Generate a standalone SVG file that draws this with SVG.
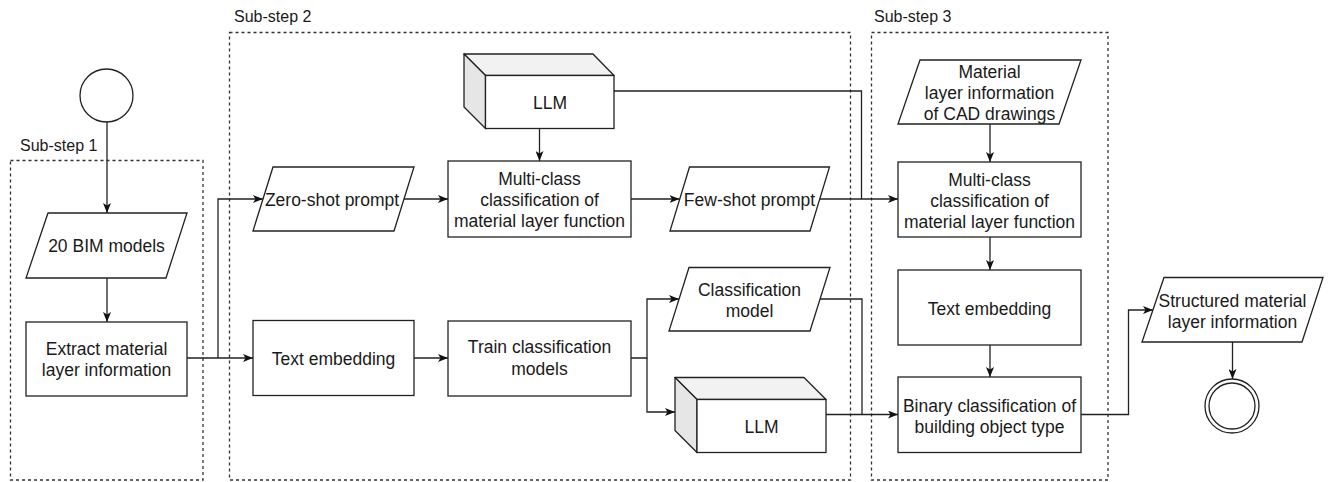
<svg xmlns="http://www.w3.org/2000/svg" width="1334" height="482" viewBox="0 0 1334 482">
<style>
.bg{fill:#ffffff}
.grp{fill:none;stroke:#333333;stroke-width:1.3;stroke-dasharray:3 3}
.lbl{font-family:"Liberation Sans",Arial,sans-serif;font-size:16px;fill:#1a1a1a}
.box{fill:#ffffff;stroke:#222222;stroke-width:1.3}
.top{fill:#f2f2f2;stroke:#222222;stroke-width:1.3;stroke-linejoin:round}
.side{fill:#e6e6e6;stroke:#222222;stroke-width:1.3;stroke-linejoin:round}
.t{font-family:"Liberation Sans",Arial,sans-serif;font-size:17.5px;fill:#1a1a1a;text-anchor:middle}
.c{fill:none;stroke:#222222;stroke-width:1.3}
.a{marker-end:url(#arr)}
</style>
<defs>
<marker id="arr" markerUnits="userSpaceOnUse" markerWidth="10" markerHeight="8" viewBox="0 0 10 8" refX="10" refY="4" orient="auto">
<path d="M0,0 L10,4 L0,8 L2.5,4 z" fill="#111111"/>
</marker>
</defs>
<rect class="bg" x="0" y="0" width="1334" height="482"/>

<g id="substep1">
<text class="lbl" x="20" y="151">Sub-step 1</text>
<rect class="grp" x="10.5" y="160.5" width="192.5" height="319.5"/>
</g>
<g id="substep2">
<text class="lbl" x="234" y="22">Sub-step 2</text>
<rect class="grp" x="229.5" y="32.5" width="621" height="447.5"/>
</g>
<g id="substep3">
<text class="lbl" x="874" y="22">Sub-step 3</text>
<rect class="grp" x="871.5" y="32.5" width="236.5" height="447.5"/>
</g>

<g id="connectors">
<path class="c a" d="M107,122 V213"/>
<path class="c a" d="M107,278 V322"/>
<path class="c a" d="M187,358 H253"/>
<path class="c a" d="M218,358 V199 H263"/>
<path class="c a" d="M404,199 H448"/>
<path class="c a" d="M539.5,128.5 V161"/>
<path class="c a" d="M631,199 H679.5"/>
<path class="c a" d="M820,199 H898"/>
<path class="c" d="M614,91 H861.5 V199"/>
<path class="c a" d="M414,358 H448"/>
<path class="c a" d="M631,358 H647 V299 H679"/>
<path class="c a" d="M647,358 V412 H675"/>
<path class="c" d="M820,299 H862 V414.5"/>
<path class="c a" d="M826,414.5 H898"/>
<path class="c a" d="M990,124 V162"/>
<path class="c a" d="M990,237 V270"/>
<path class="c a" d="M990,345 V377"/>
<path class="c a" d="M1081,414.5 H1128.5 V310 H1153"/>
<path class="c a" d="M1232.5,342 V379"/>
</g>

<g id="start">
<circle class="box" cx="106.5" cy="95.5" r="26.5"/>
</g>

<g id="bim-models">
<polygon class="box" points="48,213 187,213 166,278 26,278"/>
<text class="t" x="106.5" y="251.5">20 BIM models</text>
</g>

<g id="extract">
<rect class="box" x="26" y="322" width="161" height="74"/>
<text class="t" x="106.5" y="355">Extract material</text>
<text class="t" x="106.5" y="376">layer information</text>
</g>

<g id="zero-shot">
<polygon class="box" points="273,167 414,167 394,231 253,231"/>
<text class="t" x="332" y="205.5">Zero-shot prompt</text>
</g>

<g id="text-embedding-2">
<rect class="box" x="253" y="320.5" width="161" height="75"/>
<text class="t" x="333.5" y="364.5">Text embedding</text>
</g>

<g id="llm-top">
<polygon class="top" points="464,54 593,54 614,75.5 485.5,75.5"/>
<polygon class="side" points="464,54 485.5,75.5 485.5,128.5 464,107"/>
<rect class="box" x="485.5" y="75.5" width="128.5" height="53"/>
<text class="t" x="550" y="108.5">LLM</text>
</g>

<g id="multiclass-2">
<rect class="box" x="448" y="161" width="183" height="76"/>
<text class="t" x="539.5" y="185">Multi-class</text>
<text class="t" x="539.5" y="206">classification of</text>
<text class="t" x="539.5" y="227">material layer function</text>
</g>

<g id="few-shot">
<polygon class="box" points="689.5,167 829.5,167 810,231 670,231"/>
<text class="t" x="749.5" y="205.5">Few-shot prompt</text>
</g>

<g id="train">
<rect class="box" x="448" y="321" width="183" height="75"/>
<text class="t" x="539.5" y="353">Train classification</text>
<text class="t" x="539.5" y="374.5">models</text>
</g>

<g id="classification-model">
<polygon class="box" points="689,267.5 830,267.5 810,331 669,331"/>
<text class="t" x="749.5" y="295.5">Classification</text>
<text class="t" x="749.5" y="317">model</text>
</g>

<g id="llm-bottom">
<polygon class="top" points="675,377.5 804,377.5 826,399.5 697,399.5"/>
<polygon class="side" points="675,377.5 697,399.5 697,452.5 675,430.5"/>
<rect class="box" x="697" y="399.5" width="129" height="53"/>
<text class="t" x="761.5" y="433">LLM</text>
</g>

<g id="cad-info">
<polygon class="box" points="920,60 1081,60 1059,124 898,124"/>
<text class="t" x="989.5" y="78">Material</text>
<text class="t" x="989.5" y="99">layer information</text>
<text class="t" x="989.5" y="120">of CAD drawings</text>
</g>

<g id="multiclass-3">
<rect class="box" x="898" y="162" width="183" height="75"/>
<text class="t" x="989.5" y="186">Multi-class</text>
<text class="t" x="989.5" y="207">classification of</text>
<text class="t" x="989.5" y="228">material layer function</text>
</g>

<g id="text-embedding-3">
<rect class="box" x="898" y="270" width="183" height="75"/>
<text class="t" x="989.5" y="315">Text embedding</text>
</g>

<g id="binary">
<rect class="box" x="898" y="377" width="183" height="75.5"/>
<text class="t" x="989.5" y="411.5">Binary classification of</text>
<text class="t" x="989.5" y="433">building object type</text>
</g>

<g id="structured">
<polygon class="box" points="1164,277.5 1323,277.5 1302,342 1142,342"/>
<text class="t" x="1232.5" y="306.5">Structured material</text>
<text class="t" x="1232.5" y="327.5">layer information</text>
</g>

<g id="end">
<circle class="box" cx="1232" cy="406" r="27"/>
<circle class="box" cx="1232" cy="406" r="23"/>
</g>
</svg>
